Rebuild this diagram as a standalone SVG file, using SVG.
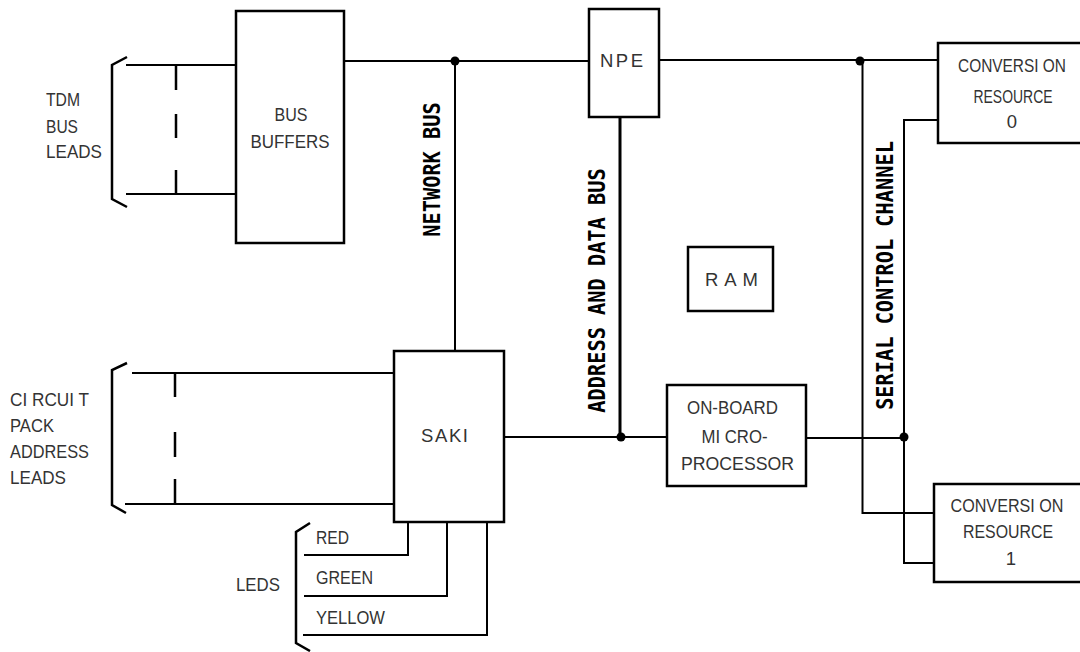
<svg xmlns="http://www.w3.org/2000/svg" width="1080" height="652" viewBox="0 0 1080 652">
<style>
.box{fill:#fff;stroke:#000;stroke-width:2.5}
.w{fill:none;stroke:#000;stroke-width:2;stroke-linecap:square}
.br{fill:none;stroke:#000;stroke-width:2.5}
.dot{fill:#000}
.t{font-family:"Liberation Sans",Arial,sans-serif;font-size:18.5px;fill:#333}
.m{text-anchor:middle}
.v{font-family:"DejaVu Sans Mono","Liberation Mono",monospace;font-weight:bold;font-size:20.3px;fill:#000;text-anchor:middle}
</style>
<rect width="1080" height="652" fill="#fff"/>
<g id="connectors">
  <path class="br" d="M127,57 L112,65 L112,199 L127,207"/>
  <line class="w" x1="127" y1="65" x2="236" y2="65"/>
  <line class="w" x1="127" y1="194" x2="236" y2="194"/>
  <path class="br" d="M176,66 V90 M176,114 V138 M176,170 V194"/>
  <line class="w" x1="344" y1="61" x2="589" y2="61"/>
  <line class="w" x1="455" y1="61" x2="455" y2="351"/>
  <circle class="dot" cx="455" cy="61" r="4.5"/>
  <line class="w" x1="659" y1="60" x2="938" y2="60"/>
  <path class="w" d="M862.5,61 V513 H934"/>
  <circle class="dot" cx="860" cy="61" r="4.5"/>
  <line fill="none" stroke="#000" stroke-width="3" x1="620" y1="117" x2="620" y2="437"/>
  <line class="w" x1="504" y1="437" x2="667" y2="437"/>
  <circle class="dot" cx="621" cy="437" r="4.5"/>
  <line class="w" x1="806" y1="438" x2="904" y2="438"/>
  <path class="w" d="M938,120 H904 V563 H934"/>
  <circle class="dot" cx="904" cy="437" r="4.5"/>
  <path class="br" d="M127,363 L112,370 L112,505 L126,513"/>
  <line class="w" x1="133" y1="373" x2="394" y2="373"/>
  <line class="w" x1="126" y1="504" x2="394" y2="504"/>
  <path class="br" d="M175,373 V397 M175,432 V457 M175,479 V504"/>
  <path class="br" d="M310,523 L296,532 L296,643 L310,651"/>
  <path class="w" d="M305,555 H408 V522"/>
  <path class="w" d="M305,596 H447 V522"/>
  <path class="w" d="M304,635 H487 V522"/>
</g>
<g id="labels">
  <text class="t" x="46" y="106" textLength="34" lengthAdjust="spacingAndGlyphs">TDM</text>
  <text class="t" x="46" y="133" textLength="32" lengthAdjust="spacingAndGlyphs">BUS</text>
  <text class="t" x="46" y="158" textLength="56" lengthAdjust="spacingAndGlyphs">LEADS</text>
  <text class="t" x="10" y="406" textLength="79" lengthAdjust="spacingAndGlyphs">CI RCUI T</text>
  <text class="t" x="10" y="432" textLength="44" lengthAdjust="spacingAndGlyphs">PACK</text>
  <text class="t" x="10" y="458" textLength="79" lengthAdjust="spacingAndGlyphs">ADDRESS</text>
  <text class="t" x="10" y="484" textLength="56" lengthAdjust="spacingAndGlyphs">LEADS</text>
  <text class="t" x="236" y="591" textLength="44" lengthAdjust="spacingAndGlyphs">LEDS</text>
  <text class="t" x="316" y="544" textLength="33" lengthAdjust="spacingAndGlyphs">RED</text>
  <text class="t" x="316" y="584" textLength="57" lengthAdjust="spacingAndGlyphs">GREEN</text>
  <text class="t" x="316" y="624" textLength="69" lengthAdjust="spacingAndGlyphs">YELLOW</text>
  <text class="v" transform="translate(440,169.5) rotate(-90) scale(1,1.15)">NETWORK BUS</text>
  <text class="v" transform="translate(605,290.5) rotate(-90) scale(1,1.15)">ADDRESS AND DATA BUS</text>
  <text class="v" transform="translate(893,275.5) rotate(-90) scale(1,1.15)">SERIAL CONTROL CHANNEL</text>
</g>
<g id="bus-buffers">
  <rect class="box" x="236" y="11" width="108" height="232"/>
  <text class="t m" x="291" y="121" textLength="33" lengthAdjust="spacingAndGlyphs">BUS</text>
  <text class="t m" x="290" y="148" textLength="79" lengthAdjust="spacingAndGlyphs">BUFFERS</text>
</g>
<g id="npe">
  <rect class="box" x="589" y="9" width="70" height="108"/>
  <text class="t" x="600" y="67" textLength="43" lengthAdjust="spacing">NPE</text>
</g>
<g id="conversion-resource-0">
  <rect class="box" x="938" y="43" width="150" height="100"/>
  <text class="t m" x="1012" y="72" textLength="108" lengthAdjust="spacingAndGlyphs">CONVERSI ON</text>
  <text class="t m" x="1013" y="103" textLength="79" lengthAdjust="spacingAndGlyphs">RESOURCE</text>
  <text class="t m" x="1012" y="128">0</text>
</g>
<g id="ram">
  <rect class="box" x="688" y="247" width="85" height="64"/>
  <text class="t" x="705" y="286" textLength="53" lengthAdjust="spacing">RAM</text>
</g>
<g id="saki">
  <rect class="box" x="394" y="351" width="110" height="171"/>
  <text class="t" x="421" y="442" textLength="47" lengthAdjust="spacing">SAKI</text>
</g>
<g id="microprocessor">
  <rect class="box" x="667" y="385" width="139" height="101"/>
  <text class="t m" x="732.5" y="414" textLength="91" lengthAdjust="spacingAndGlyphs">ON-BOARD</text>
  <text class="t m" x="734.5" y="443" textLength="66" lengthAdjust="spacingAndGlyphs">MI CRO-</text>
  <text class="t m" x="737.5" y="470" textLength="113" lengthAdjust="spacingAndGlyphs">PROCESSOR</text>
</g>
<g id="conversion-resource-1">
  <rect class="box" x="934" y="484" width="150" height="98"/>
  <text class="t m" x="1007" y="512" textLength="113" lengthAdjust="spacingAndGlyphs">CONVERSI ON</text>
  <text class="t m" x="1008" y="538" textLength="90" lengthAdjust="spacingAndGlyphs">RESOURCE</text>
  <text class="t m" x="1011" y="565">1</text>
</g>
</svg>
